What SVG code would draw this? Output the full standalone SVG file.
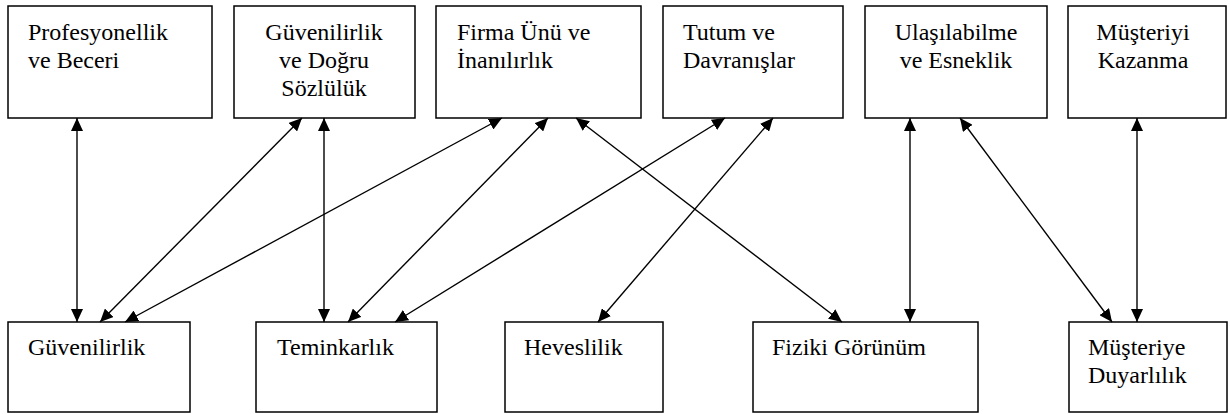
<svg xmlns="http://www.w3.org/2000/svg" width="1230" height="414" viewBox="0 0 1230 414">
  <style>
    .box { fill: #fff; stroke: #000; stroke-width: 1.5; }
    .lbl { font-family: "Liberation Serif", "Times New Roman", serif; font-size: 24px; fill: #000; }
    .mid { text-anchor: middle; }
    .link { stroke: #000; stroke-width: 1.4; fill: none; marker-start: url(#head); marker-end: url(#head); }
  </style>
  <defs>
    <marker id="head" markerUnits="userSpaceOnUse" markerWidth="14" markerHeight="12" refX="13" refY="6" orient="auto-start-reverse">
      <path d="M0,0 L13,6 L0,12 Z" fill="#000"/>
    </marker>
  </defs>
  <rect width="1230" height="414" fill="#fff"/>

  <!-- upper row -->
  <g id="profesyonellik">
    <rect class="box" x="8" y="6" width="204" height="112"/>
    <text class="lbl" x="28" y="40">Profesyonellik</text>
    <text class="lbl" x="28" y="68">ve Beceri</text>
  </g>
  <g id="dogru-sozluluk">
    <rect class="box" x="234" y="6" width="181" height="112"/>
    <text class="lbl mid" x="324" y="40">Güvenilirlik</text>
    <text class="lbl mid" x="324" y="68">ve Doğru</text>
    <text class="lbl mid" x="324" y="96">Sözlülük</text>
  </g>
  <g id="firma-unu">
    <rect class="box" x="436" y="6" width="205" height="112"/>
    <text class="lbl" x="457" y="40">Firma Ünü ve</text>
    <text class="lbl" x="457" y="68">İnanılırlık</text>
  </g>
  <g id="tutum">
    <rect class="box" x="663" y="6" width="180" height="112"/>
    <text class="lbl" x="683" y="40">Tutum ve</text>
    <text class="lbl" x="683" y="68">Davranışlar</text>
  </g>
  <g id="ulasilabilme">
    <rect class="box" x="865" y="6" width="182" height="112"/>
    <text class="lbl mid" x="956" y="40">Ulaşılabilme</text>
    <text class="lbl mid" x="956" y="68">ve Esneklik</text>
  </g>
  <g id="musteriyi-kazanma">
    <rect class="box" x="1068" y="6" width="158" height="112"/>
    <text class="lbl mid" x="1143" y="40">Müşteriyi</text>
    <text class="lbl mid" x="1143" y="68">Kazanma</text>
  </g>

  <!-- lower row -->
  <g id="guvenilirlik">
    <rect class="box" x="8" y="322" width="182" height="90"/>
    <text class="lbl" x="28" y="355">Güvenilirlik</text>
  </g>
  <g id="teminkarlik">
    <rect class="box" x="256" y="322" width="181" height="90"/>
    <text class="lbl" x="277" y="355">Teminkarlık</text>
  </g>
  <g id="heveslilik">
    <rect class="box" x="505" y="322" width="158" height="90"/>
    <text class="lbl" x="524" y="355">Heveslilik</text>
  </g>
  <g id="fiziki-gorunum">
    <rect class="box" x="753" y="322" width="225" height="90"/>
    <text class="lbl" x="772" y="355">Fiziki Görünüm</text>
  </g>
  <g id="musteriye-duyarlilik">
    <rect class="box" x="1069" y="322" width="158" height="90"/>
    <text class="lbl" x="1088" y="355">Müşteriye</text>
    <text class="lbl" x="1088" y="383">Duyarlılık</text>
  </g>

  <!-- two-way links -->
  <g id="connectors">
    <line class="link" x1="77" y1="118" x2="77" y2="322"/>
    <line class="link" x1="302" y1="118" x2="100" y2="322"/>
    <line class="link" x1="502" y1="118" x2="125" y2="322"/>
    <line class="link" x1="324" y1="118" x2="324" y2="322"/>
    <line class="link" x1="548" y1="118" x2="348" y2="322"/>
    <line class="link" x1="725" y1="118" x2="395" y2="322"/>
    <line class="link" x1="576" y1="118" x2="842" y2="322"/>
    <line class="link" x1="773" y1="118" x2="598" y2="322"/>
    <line class="link" x1="910" y1="118" x2="910" y2="322"/>
    <line class="link" x1="960" y1="118" x2="1112" y2="322"/>
    <line class="link" x1="1137" y1="118" x2="1137" y2="322"/>
  </g>
</svg>
